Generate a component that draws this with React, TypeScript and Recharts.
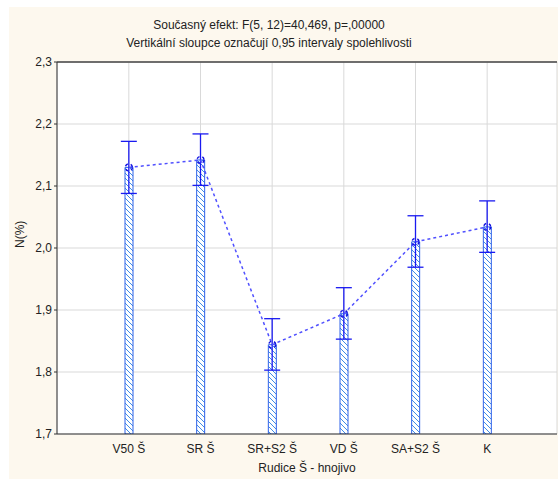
import React from 'react'
import { ComposedChart, Bar, Line, XAxis, YAxis, CartesianGrid, ErrorBar, ReferenceLine } from 'recharts';

const categories = ['V50 Š', 'SR Š', 'SR+S2 Š', 'VD Š', 'SA+S2 Š', 'K'];
const means = [2.130, 2.142, 1.844, 1.894, 2.010, 2.034];
const lower = [2.088, 2.101, 1.803, 1.853, 1.969, 1.993];
const upper = [2.172, 2.184, 1.886, 1.936, 2.052, 2.076];
const yTicks = [1.7, 1.8, 1.9, 2.0, 2.1, 2.2, 2.3];

const data = categories.map((name, i) => ({
  name,
  mean: means[i],
  err: [means[i] - lower[i], upper[i] - means[i]],
}));

const font = '"Liberation Sans", Arial, sans-serif';
const fmt = (v: number) => v.toFixed(1).replace('.', ',');

const App: React.FC = () => {
  return (
    <div style={{ position: 'fixed', left: 9, top: 7, width: 549, height: 472, background: '#fdf8ee', fontFamily: font }}>
      <div style={{ position: 'absolute', left: 0, width: 520, top: 9, textAlign: 'center', fontSize: 12, lineHeight: '18px', color: '#222' }}>
        Současný efekt: F(5, 12)=40,469, p=,00000<br />
        Vertikální sloupce označují 0,95 intervaly spolehlivosti
      </div>
      <ComposedChart
        width={549}
        height={472}
        data={data}
        margin={{ top: 55, right: 1, bottom: 0, left: 0 }}
        style={{ fontFamily: font }}
      >
        <defs>
          <pattern id="hatch" width="5" height="5" patternUnits="userSpaceOnUse">
            <rect width="5" height="5" fill="#ffffff" />
            <path d="M-1,-1 L6,6 M-1,4 L1,6 M4,-1 L6,1" stroke="#3f8ce8" strokeWidth="1" />
          </pattern>
        </defs>
        <CartesianGrid stroke="#d9d9d9" fill="#ffffff" />
        <XAxis
          dataKey="name"
          height={45}
          padding={{ left: 36, right: 34 }}
          tickLine={false}
          axisLine={{ stroke: '#333' }}
          tick={{ fill: '#222', fontSize: 12 }}
          tickMargin={4}
          label={{ value: 'Rudice Š - hnojivo', position: 'insideBottom', offset: 7, fill: '#222', fontSize: 12 }}
        />
        <YAxis
          width={48}
          domain={[1.7, 2.3]}
          ticks={yTicks}
          allowDataOverflow
          tickFormatter={fmt}
          tickSize={3}
          tickMargin={2}
          axisLine={{ stroke: '#333' }}
          tickLine={{ stroke: '#333' }}
          tick={{ fill: '#222', fontSize: 12 }}
          label={{ value: 'N(%)', angle: -90, position: 'insideLeft', offset: 11, fill: '#222', fontSize: 12 }}
        />
        <ReferenceLine y={2.3} stroke="#444" strokeWidth={1.5} />
        <Bar dataKey="mean" barSize={8} fill="url(#hatch)" stroke="#2f62e8" strokeWidth={1} isAnimationActive={false} />
        <Line
          dataKey="mean"
          stroke="#5050ff"
          strokeWidth={1.5}
          strokeDasharray="3 3"
          dot={{ r: 3.5, stroke: '#1010e0', strokeWidth: 1.5, fill: 'none' }}
          isAnimationActive={false}
        >
          <ErrorBar dataKey="err" width={8} stroke="#1a1af0" strokeWidth={1.3} direction="y" />
        </Line>
      </ComposedChart>
    </div>
  )
}

export default App;
